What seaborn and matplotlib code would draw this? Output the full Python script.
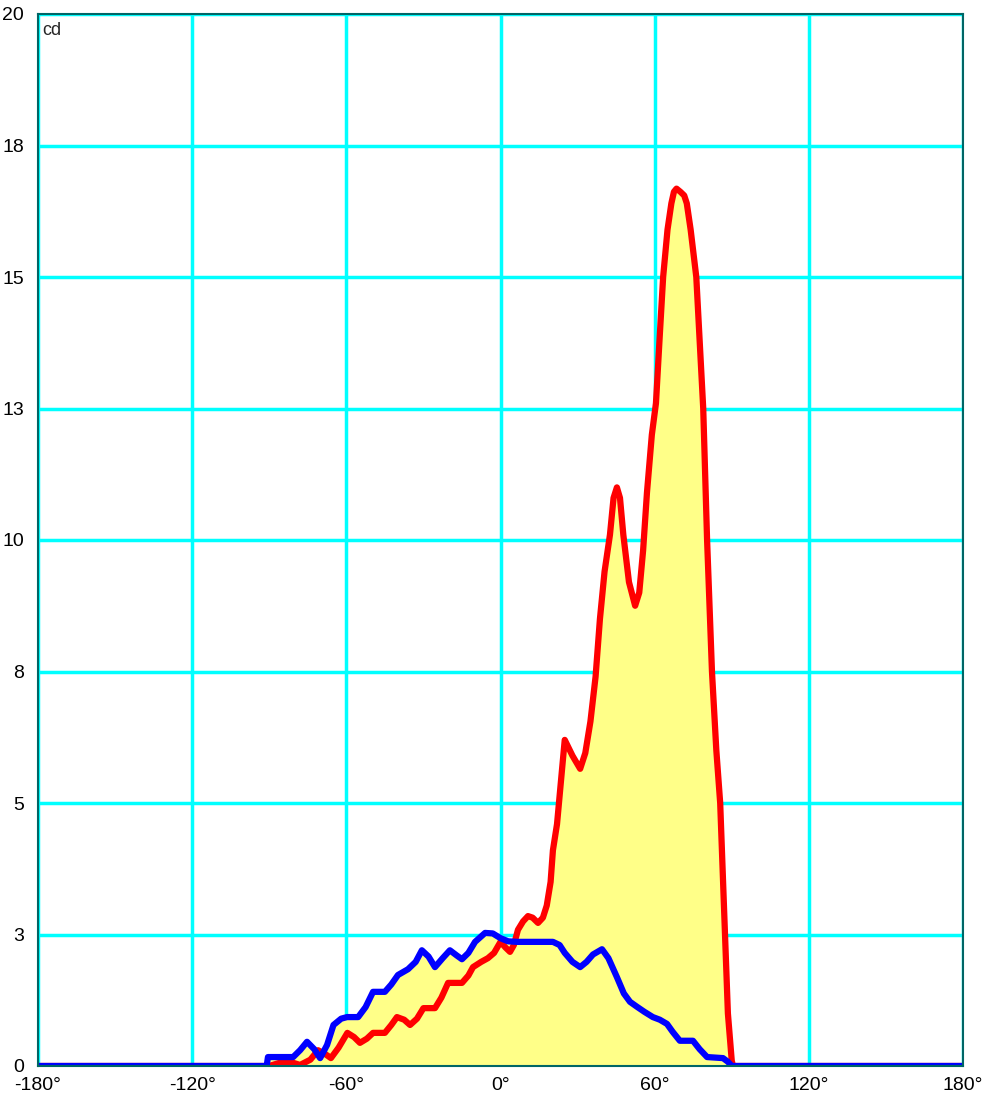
import matplotlib
matplotlib.use('Agg')
import matplotlib.pyplot as plt
import seaborn as sns
import pandas as pd

# angles [deg] and intensities [cd]
red_angle = [-180, -90, -86, -82, -78, -74, -71, -68, -66, -63, -59.6, -57, -54.7, -52, -49.6, -45, -42.5, -40.3,
             -37.5, -35.2, -32.5, -30, -25.5, -23, -20.4, -15, -12.5, -10.7, -7.5, -4.9, -2.5, 0, 2, 3.7, 5.2, 6.8,
             8.8, 10.7, 12.5, 14.6, 16.5, 18, 19.5, 20.4, 22, 23.5, 25, 28, 31, 33, 35, 37, 38.7, 40.5, 42.6, 44,
             45.3, 46.5, 47.8, 50, 52.4, 54, 55.5, 57, 58.9, 60.5, 62, 63.3, 65, 66.5, 67.5, 68.5, 70, 71.5, 72.5,
             74, 76.2, 78.9, 80.4, 82.3, 84, 85.5, 87, 88.5, 90, 90.5, 180]
red_cd = [0, 0, 0.06, 0.08, 0.02, 0.12, 0.3, 0.22, 0.15, 0.35, 0.63, 0.55, 0.44, 0.52, 0.63, 0.63, 0.78, 0.93,
          0.88, 0.78, 0.9, 1.1, 1.1, 1.3, 1.58, 1.58, 1.72, 1.88, 1.98, 2.05, 2.15, 2.36, 2.25, 2.17, 2.3, 2.59,
          2.75, 2.85, 2.82, 2.72, 2.82, 3.05, 3.5, 4.1, 4.6, 5.4, 6.2, 5.9, 5.65, 5.95, 6.55, 7.4, 8.5, 9.4, 10.1,
          10.8, 11.0, 10.8, 10.1, 9.2, 8.75, 9.0, 9.8, 10.9, 12.0, 12.6, 13.9, 15.0, 15.9, 16.4, 16.62, 16.68,
          16.62, 16.55, 16.4, 15.9, 15.0, 12.5, 10.0, 7.5, 6.0, 5.0, 3.0, 1.0, 0.1, 0, 0]

blue_angle = [-180, -91, -90.5, -80.7, -78, -75.3, -72.5, -70.2, -67.5, -65, -62, -59.7, -55.4, -52.5, -49.6, -45,
              -42.5, -39.9, -36, -33, -30.6, -28, -25.5, -22.5, -19.7, -17, -15, -12.5, -9.9, -6, -3, 0, 3, 6.4,
              10, 15, 20.4, 23, 25, 28, 31, 33.5, 36, 39.5, 42, 45.3, 48, 50.4, 53, 56, 59.3, 62, 64.8, 67, 69.8,
              74.9, 77.5, 80.4, 86.6, 88.5, 90, 180]
blue_cd = [0, 0, 0.17, 0.17, 0.3, 0.46, 0.32, 0.15, 0.4, 0.78, 0.9, 0.93, 0.93, 1.12, 1.41, 1.41, 1.55, 1.73,
           1.84, 1.98, 2.2, 2.08, 1.88, 2.05, 2.2, 2.1, 2.03, 2.15, 2.36, 2.53, 2.52, 2.43, 2.37, 2.36, 2.36, 2.36,
           2.36, 2.3, 2.15, 1.98, 1.88, 1.98, 2.12, 2.22, 2.05, 1.69, 1.38, 1.22, 1.13, 1.03, 0.93, 0.88, 0.8,
           0.65, 0.48, 0.48, 0.32, 0.17, 0.15, 0.08, 0, 0]

y_ticks = [0, 2.5, 5, 7.5, 10, 12.5, 15, 17.5, 20]
y_labels = ['0', '3', '5', '8', '10', '13', '15', '18', '20']
x_ticks = [-180, -120, -60, 0, 60, 120, 180]
x_labels = ['-180°', '-120°', '-60°', '0°', '60°', '120°', '180°']

red_df = pd.DataFrame({'angle': red_angle, 'cd': red_cd})
blue_df = pd.DataFrame({'angle': blue_angle, 'cd': blue_cd})

sns.set_style('white')
plt.rcParams['font.family'] = ['Liberation Sans', 'DejaVu Sans']

fig = plt.figure(figsize=(9.89, 10.93), dpi=100)
ax = fig.add_axes([38 / 989, 27 / 1093, 925 / 989, 1052 / 1093])

fill_color = '#FFFF88'
ax.fill_between(red_df.angle, 0, red_df.cd, color=fill_color, lw=0, zorder=1)
ax.fill_between(blue_df.angle, 0, blue_df.cd, color=fill_color, lw=0, zorder=1)

line_kw = dict(lw=4.5, sort=False, solid_joinstyle='round', solid_capstyle='round')
sns.lineplot(data=red_df, x='angle', y='cd', ax=ax, color='#FF0000', zorder=4, **line_kw)
sns.lineplot(data=blue_df, x='angle', y='cd', ax=ax, color='#0000FF', zorder=5, **line_kw)

ax.set_xlim(-180, 180)
ax.set_ylim(0, 20)
ax.set_xticks(x_ticks)
ax.set_xticklabels(x_labels)
ax.set_yticks(y_ticks)
ax.set_yticklabels(y_labels)
ax.tick_params(length=0, labelsize=14, colors='black')
ax.tick_params(axis='x', pad=8)
ax.tick_params(axis='y', pad=10)
ax.grid(True, color='#00FFFF', lw=2.5, zorder=2)
for line in ax.get_xgridlines() + ax.get_ygridlines():
    line.set_zorder(2)
for spine in ax.spines.values():
    spine.set_color('#006666')
    spine.set_linewidth(1.5)
    spine.set_zorder(6)
ax.set_xlabel('')
ax.set_ylabel('')
ax.text(-178.5, 19.85, 'cd', fontsize=13, va='top', ha='left')

fig.savefig('out.png', dpi=100)
